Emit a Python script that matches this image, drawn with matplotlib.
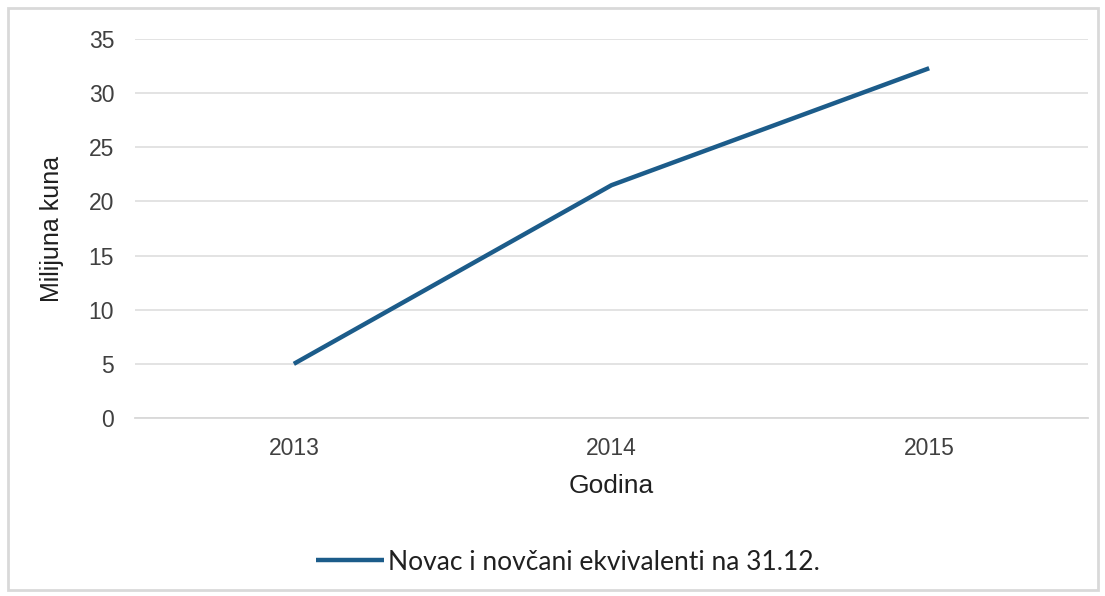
import matplotlib.pyplot as plt
from matplotlib.patches import Rectangle

# data
godine = ['2013', '2014', '2015']
novac = [5.0, 21.5, 32.3]
y_ticks = [0, 5, 10, 15, 20, 25, 30, 35]

plt.rcParams['font.family'] = ['Liberation Sans', 'DejaVu Sans']

fig = plt.figure(figsize=(11.05, 5.96), dpi=100)
ax = fig.add_axes([135 / 1105, 1 - 418 / 596, 953 / 1105, (418 - 39) / 596])

x = list(range(len(godine)))
ax.plot(x, novac, color='#1c5c8a', linewidth=3.2, solid_capstyle='butt',
        label='Novac i novčani ekvivalenti na 31.12.')

ax.set_xlim(-0.5, len(godine) - 0.5)
ax.set_ylim(0, 35)
ax.set_yticks(y_ticks)
ax.set_xticks(x)
ax.set_xticklabels(godine)
ax.grid(axis='y', color='#e0e0e0', linewidth=1.3)
ax.set_axisbelow(True)
for s in ['top', 'right', 'left']:
    ax.spines[s].set_visible(False)
ax.spines['bottom'].set_color('#d9d9d9')
ax.spines['bottom'].set_linewidth(1.3)
ax.tick_params(axis='both', length=0, labelsize=16.5, colors='#404040')
ax.tick_params(axis='y', pad=15)
ax.tick_params(axis='x', pad=14)

ax.set_xlabel('Godina', fontsize=19, color='#202020', labelpad=10)
ax.set_ylabel('Milijuna kuna', fontsize=18, color='#202020', labelpad=18)

leg = fig.legend(loc='center', bbox_to_anchor=(568 / 1105, 1 - 562 / 596),
                 frameon=False, handlelength=2.6, handletextpad=0.15,
                 prop={'family': ['Lato', 'DejaVu Sans'], 'size': 19})
for t in leg.get_texts():
    t.set_color('#202020')

# light frame around the whole chart
fig.patches.append(Rectangle((8 / 1105, 6 / 596), 1090 / 1105, 582 / 596,
                             transform=fig.transFigure, fill=False,
                             edgecolor='#d9d9d9', linewidth=2))

fig.savefig('out.png', dpi=100)
